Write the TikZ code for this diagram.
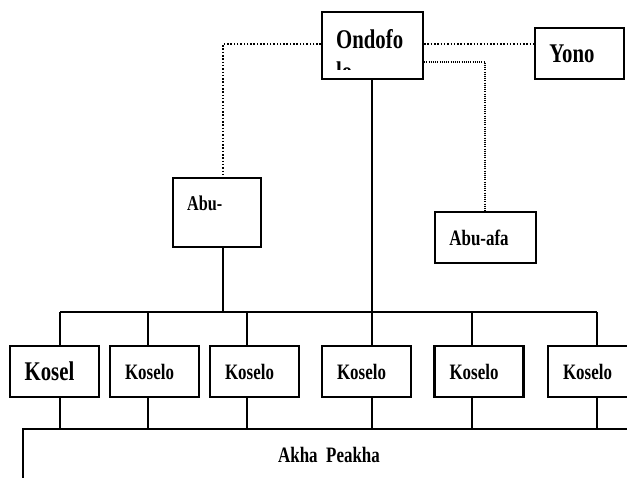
\documentclass[tikz,border=0pt]{standalone}
\usepackage{fontspec}
\usepackage{graphicx}
\setmainfont{Liberation Serif}
\newcommand{\cz}[1]{\scalebox{0.77}[1]{#1}}
\begin{document}
\begin{tikzpicture}[x=1pt,y=-1pt,
  box/.style={draw, line width=2.2pt, inner sep=0pt, rectangle, fill=white},
  conn/.style={line width=2.9pt},
  connb/.style={line width=2.5pt},
  dotl/.style={line width=1.8pt, dash pattern=on 1.5pt off 1.8pt},
  dotf/.style={line width=1.1pt, dash pattern=on 1pt off 1.2pt},
  lbl/.style={inner sep=0pt},
  fA/.style={font=\bfseries\fontsize{27}{30}\selectfont},
  fB/.style={font=\bfseries\fontsize{22}{26}\selectfont},
  fC/.style={font=\bfseries\fontsize{21}{25}\selectfont},
  kbox/.style={box, fB, minimum width=89pt, minimum height=51pt}]
\useasboundingbox (0,0) rectangle (627,477);
\fill[white] (0,0) rectangle (627,477);

% top nodes
\node[box, minimum width=101pt, minimum height=67pt] (ondo) at (372.5,45.5) {};
\begin{scope}
  \clip (323,13) rectangle (422,69);
  \node[lbl, fA, anchor=base west] (ondot1) at (336,48) {\cz{Ondofo}};
  \node[lbl, fA, anchor=base west] (ondot2) at (336,80) {\cz{lo}};
\end{scope}
\node[box, fA, minimum width=89pt, minimum height=51pt] (yono) at (579.5,53.5) {\cz{Yono}\hspace*{15pt}};
\node[box, minimum width=88pt, minimum height=69pt] (abu) at (217,212.5) {};
\node[lbl, fC, anchor=base west] (abut) at (187,210) {\cz{Abu-}};
\node[box, fB, minimum width=101pt, minimum height=51pt] (abuafa) at (485.5,237.5) {\cz{Abu-afa}\hspace*{13pt}};

% kosel row
\node[kbox, fA] (k1) at (54.5,371.5) {\cz{Kosel}\hspace*{10pt}};
\node[kbox] (k2) at (154.5,371.5) {\cz{Koselo}\hspace*{10pt}};
\node[kbox] (k3) at (254.5,371.5) {\cz{Koselo}\hspace*{10pt}};
\node[kbox] (k4) at (366.5,371.5) {\cz{Koselo}\hspace*{10pt}};
\node[kbox] (k5) at (479,371.5) {\cz{Koselo}\hspace*{10pt}};
\node[kbox] (k6) at (592.5,371.5) {\cz{Koselo}\hspace*{10pt}};

% bus coordinates
\coordinate (t1) at (60,312);
\coordinate (t2) at (148,312);
\coordinate (t3) at (247,312);
\coordinate (t4) at (372,312);
\coordinate (t5) at (472,312);
\coordinate (t6) at (597,312);
\coordinate (ta) at (223,312);
\coordinate (b1) at (60,429);
\coordinate (b2) at (148,429);
\coordinate (b3) at (247,429);
\coordinate (b4) at (372,429);
\coordinate (b5) at (472,429);
\coordinate (b6) at (597,429);
\coordinate (bL) at (23,429);
\coordinate (bR) at (640,429);
\coordinate (bLd) at (23,480);
\coordinate (dl) at (223,44);
\coordinate (dr) at (485,62);

% solid connectors
\draw[conn] (t1) -- (t6);
\draw[conn] (ondo.south -| t4) -- (t4);
\draw[conn] (abu.south -| ta) -- (ta);
\foreach \i in {1,...,6}{
  \draw[conn] (t\i) -- (t\i |- k\i.north);
  \draw[conn] (k\i.south -| b\i) -- (b\i);
}
\draw[connb] (bLd) -- (bL) -- (bR);

% dotted connectors
\draw[dotl] (ondo.west |- dl) -- (dl) -- (dl |- abu.north);
\draw[dotl] (ondo.east |- dl) -- (yono.west |- dl);
\draw[dotf] (ondo.east |- dr) -- (dr) -- (dr |- abuafa.north);

% bottom label
\node[lbl, fB, anchor=base] (akha) at (329,462) {\cz{Akha\ \ Peakha}};
\end{tikzpicture}
\end{document}
